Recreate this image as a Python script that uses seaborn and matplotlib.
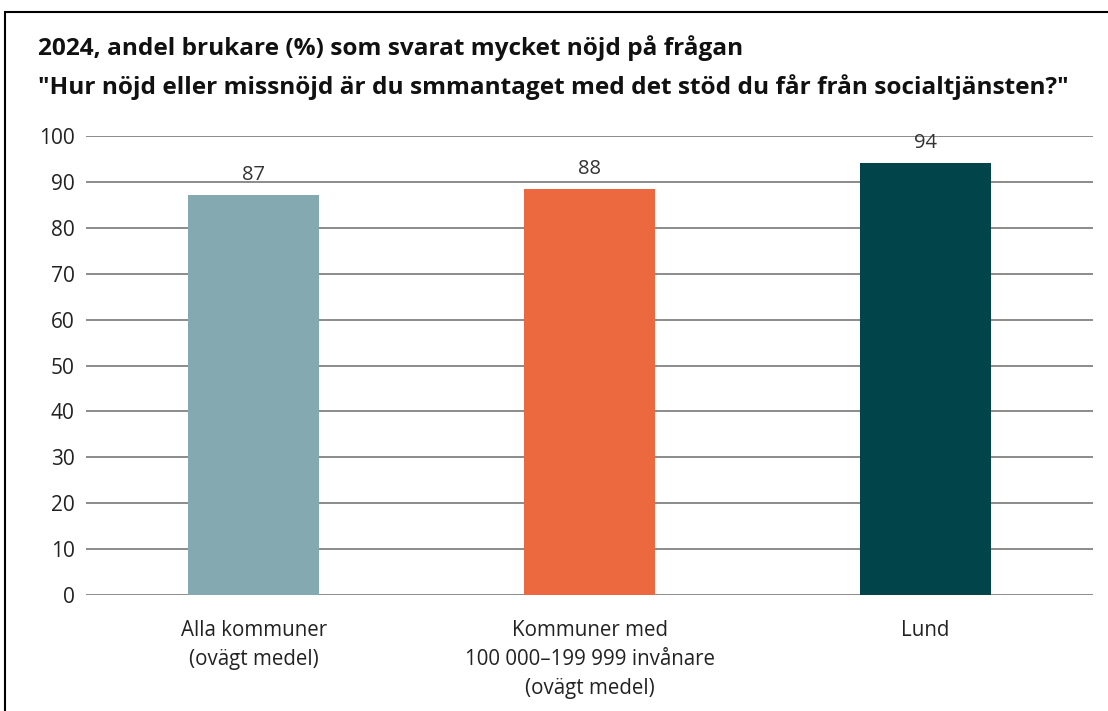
import matplotlib.pyplot as plt
import matplotlib.patches as mpatches
import pandas as pd
import seaborn as sns

categories = ["Alla kommuner\n(ovägt medel)",
              "Kommuner med\n100 000\u2013199 999 invånare\n(ovägt medel)",
              "Lund"]
values = [87.2, 88.4, 94.2]
colors = ["#84A9B0", "#EC6940", "#01444A"]
title = ("2024, andel brukare (%) som svarat mycket nöjd på frågan\n"
         "\"Hur nöjd eller missnöjd är du smmantaget med det stöd du får från socialtjänsten?\"")

df = pd.DataFrame({"kategori": categories, "andel": values})

sns.set_style("white")
plt.rcParams["font.family"] = ["Open Sans", "DejaVu Sans"]

fig = plt.figure(figsize=(11.08, 7.11), dpi=100)
ax = fig.add_axes([0.0776, 0.163, 0.909, 0.6457])

sns.barplot(data=df, x="kategori", y="andel", hue="kategori", palette=colors,
            width=0.39, legend=False, ax=ax, zorder=3, saturation=1, linewidth=0)

for i, v in enumerate(values):
    ax.text(i, v + 2.2, f"{v:.0f}", ha="center", va="bottom", fontsize=14.5, color="#333333")

ax.set_ylim(0, 100)
ax.set_xlim(-0.5, 2.5)
ax.set_yticks(range(0, 101, 10))
ax.yaxis.grid(True, color="#828282", linewidth=1.3, zorder=0)
ax.set_axisbelow(True)
for s in ax.spines.values():
    s.set_visible(False)
ax.tick_params(axis="y", length=0, pad=8, labelsize=15, labelcolor="#222222")
ax.tick_params(axis="x", length=0, pad=18)
ax.set_xticks(range(len(categories)))
ax.set_xticklabels(categories, fontsize=14.8, linespacing=1.5, color="#222222")
ax.set_xlabel("")
ax.set_ylabel("")

fig.text(0.034, 0.950, title, ha="left", va="top", fontsize=17.6, fontweight="bold",
         linespacing=1.65, color="#111111")

# black frame around the figure (right and bottom edges outside the canvas)
fig.patches.append(mpatches.Rectangle((0.0045, -0.05), 1.1, 1.033,
                                      transform=fig.transFigure, fill=False,
                                      edgecolor="black", linewidth=1.5))

fig.savefig("out.png", dpi=100)
